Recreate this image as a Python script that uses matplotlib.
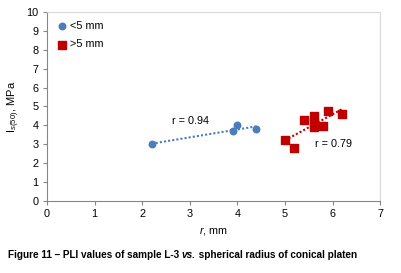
import numpy as np
import matplotlib.pyplot as plt

plt.rcParams['font.family'] = ['Liberation Sans', 'DejaVu Sans']
plt.rcParams['mathtext.fontset'] = 'custom'
plt.rcParams['mathtext.rm'] = 'Liberation Sans'
plt.rcParams['mathtext.it'] = 'Liberation Sans:italic'

# radius r (mm) and point load index Is(50) (MPa)
r_small = [2.2, 3.9, 4.0, 4.4]
is_small = [3.0, 3.7, 4.0, 3.8]
r_large = [5.0, 5.2, 5.4, 5.6, 5.6, 5.6, 5.8, 5.9, 6.2]
is_large = [3.25, 2.8, 4.3, 4.5, 4.1, 3.9, 3.95, 4.75, 4.6]
r_labels = ['r = 0.94', 'r = 0.79']

blue = '#4a7ebb'
red = '#c00000'

fig = plt.figure(figsize=(4.01, 2.73), dpi=100)
ax = fig.add_axes([0.117, 0.264, 0.831, 0.692])

ax.scatter(r_small, is_small, s=22, color=blue, marker='o', zorder=3, label='<5 mm')
ax.scatter(r_large, is_large, s=28, color=red, marker='s', zorder=3, label='>5 mm')

# linear trend lines
for xs, ys, c in [(r_small, is_small, blue), (r_large, is_large, red)]:
    k, b = np.polyfit(xs, ys, 1)
    xx = np.array([min(xs), max(xs)])
    ax.plot(xx, k * xx + b, ls=(0, (1, 1)), color=c, lw=1.5, zorder=2)

ax.text(3.02, 4.23, r_labels[0], ha='center', va='center', fontsize=7.8)
ax.text(6.01, 3.02, r_labels[1], ha='center', va='center', fontsize=7.8)

ax.set_xlim(0, 7)
ax.set_ylim(0, 10)
ax.set_xticks(range(0, 8))
ax.set_yticks(range(0, 11))
ax.tick_params(labelsize=7.8, length=3, color='#868686', pad=3)
for s in ['left', 'bottom']:
    ax.spines[s].set_color('#868686')
for s in ['top', 'right']:
    ax.spines[s].set_color('#d9d9d9')

ax.set_xlabel('$\\it{r}$, mm', fontsize=7.8, labelpad=4)
ax.set_ylabel('I$_{s(50)}$, MPa', fontsize=8, labelpad=3)

ax.legend(loc='upper left', frameon=False, fontsize=7.8, handletextpad=0.1,
          borderaxespad=0.4, labelspacing=0.8, handlelength=1.2)

# caption in three pieces so that "vs." can be bold italic
fig.canvas.draw()
renderer = fig.canvas.get_renderer()
x0 = 8
parts = [('Figure 11 – PLI values of sample L-3 ', 'normal'),
         ('vs.', 'italic'),
         (' spherical radius of conical platen', 'normal')]
for txt, style in parts:
    t = fig.text(x0 / 401, 0.066, txt, fontsize=7.2, fontweight='bold',
                 style=style, va='center')
    x0 += t.get_window_extent(renderer).width

fig.savefig('out.png', dpi=100)
